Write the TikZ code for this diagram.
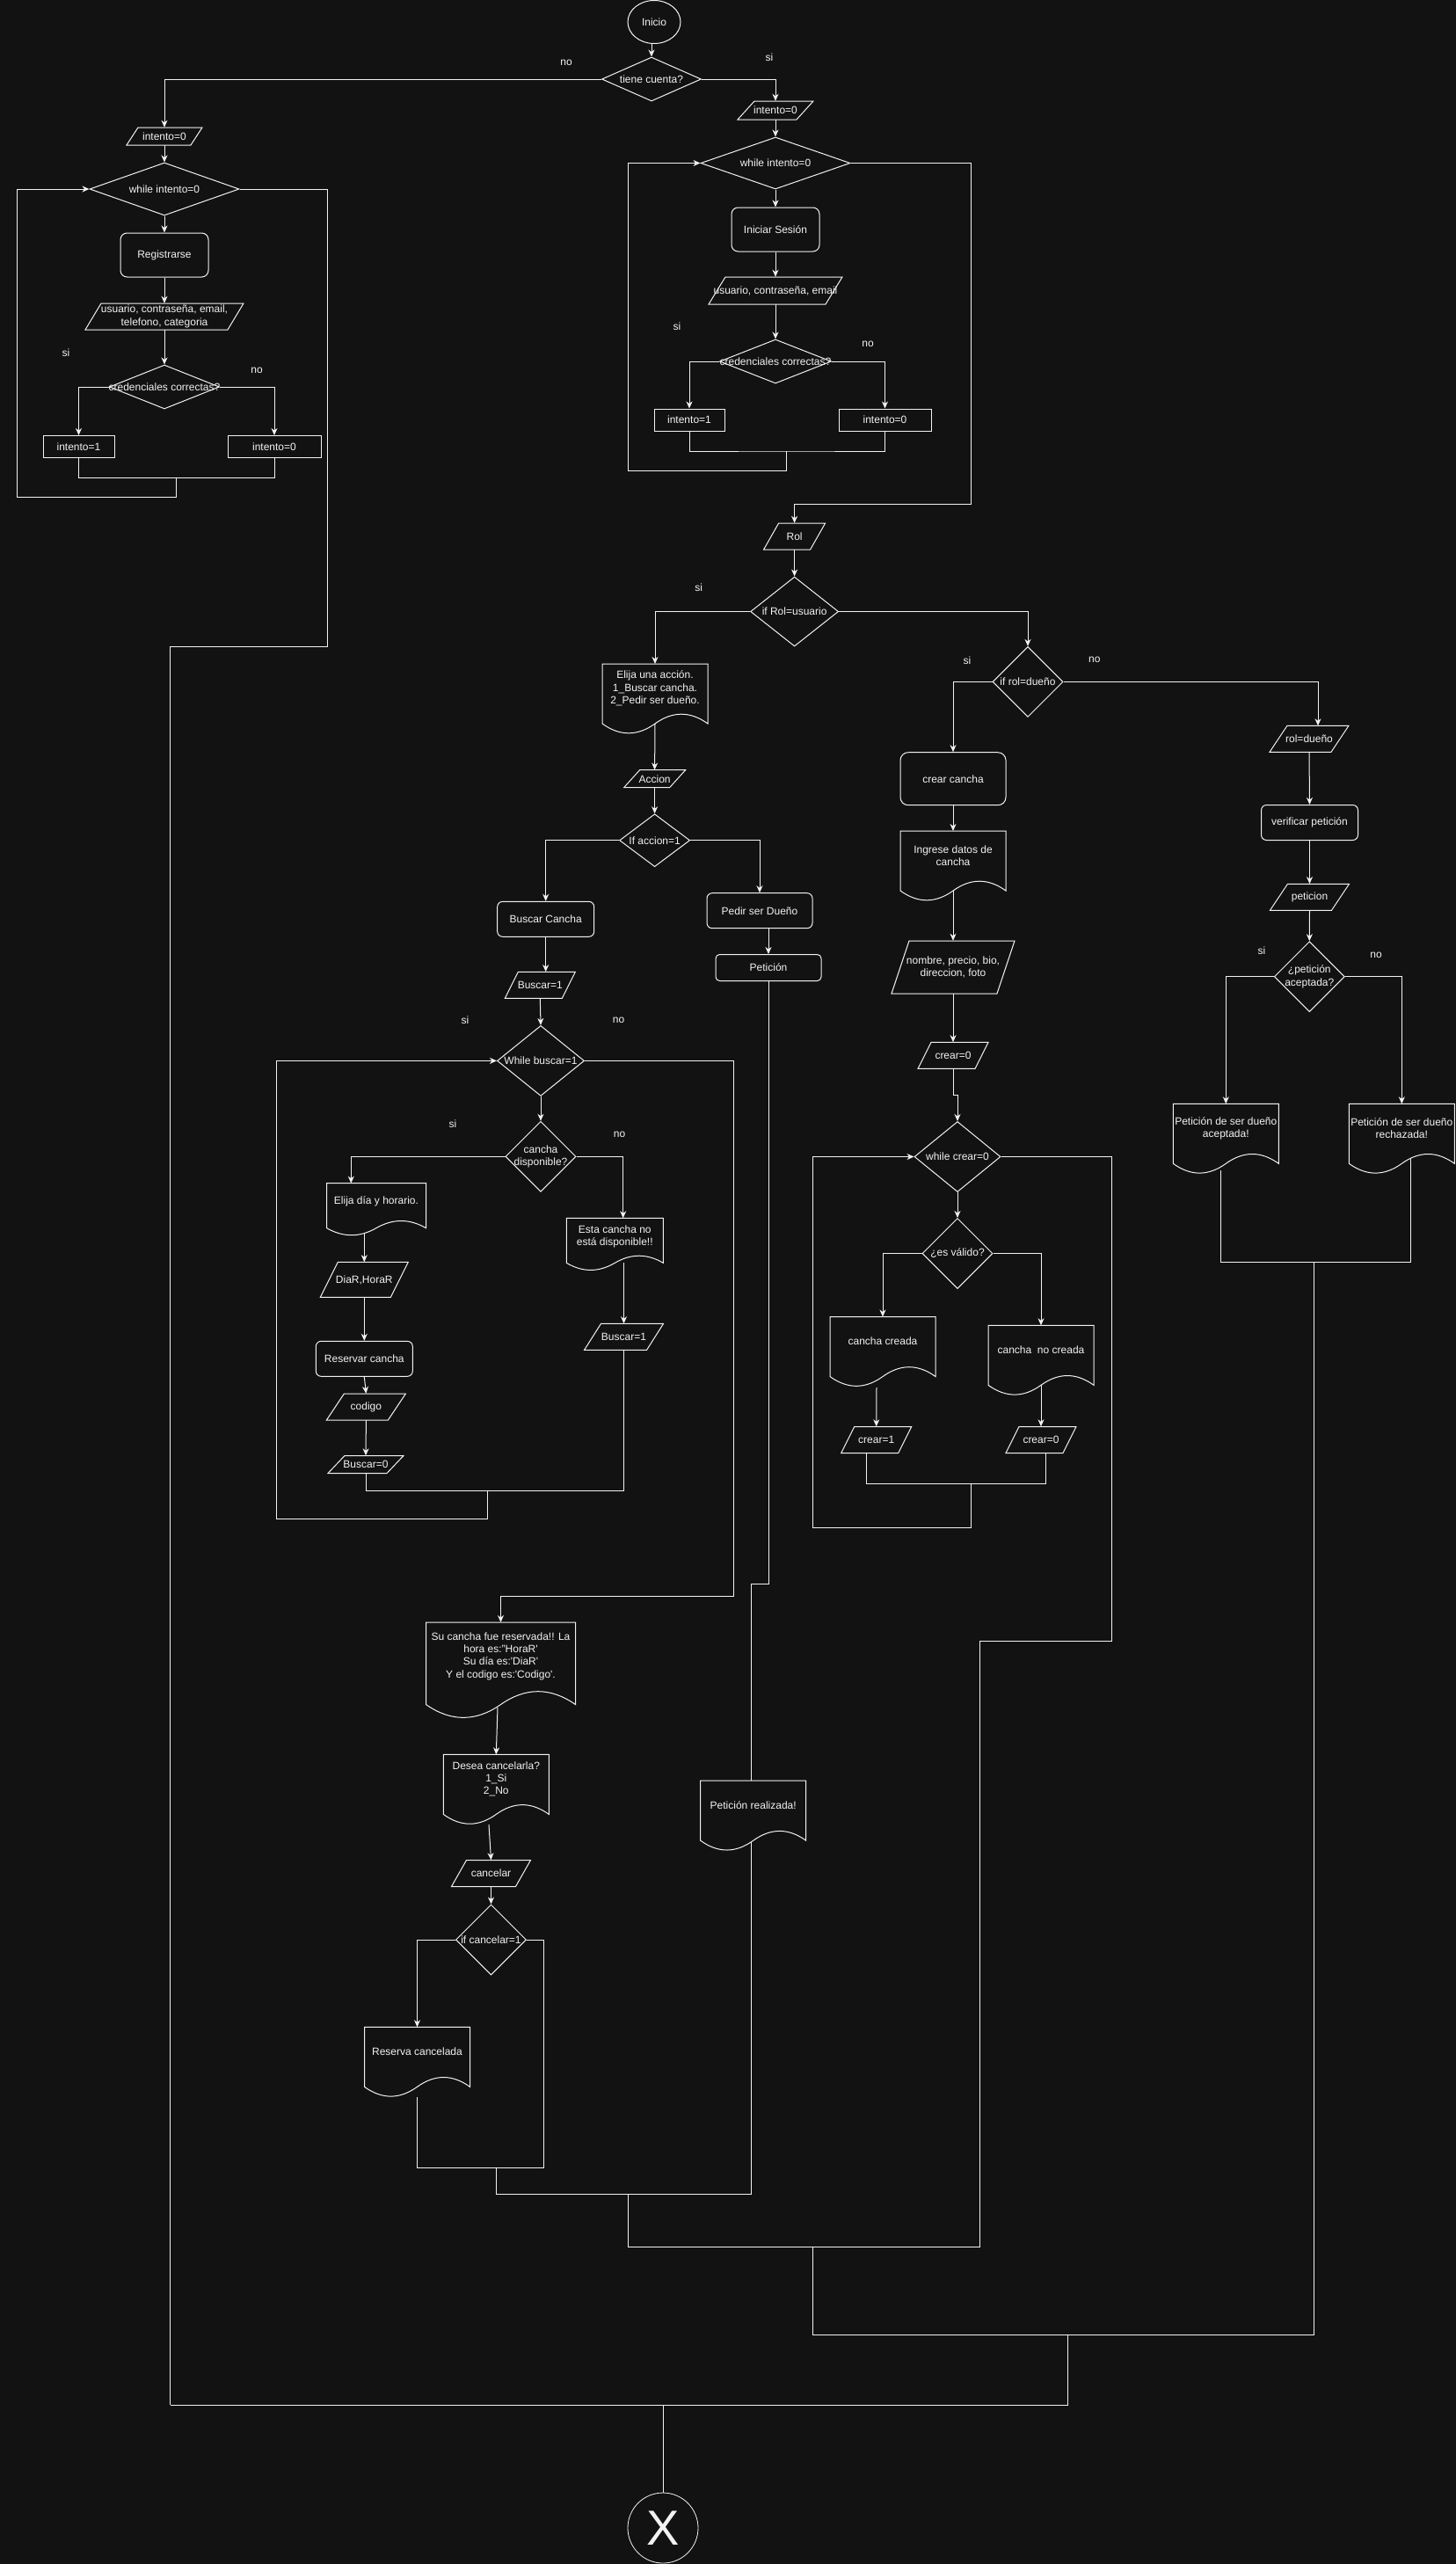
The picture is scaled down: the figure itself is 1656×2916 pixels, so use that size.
\documentclass[tikz,border=0pt]{standalone}
\usepackage{fontspec}
\setmainfont{Liberation Sans}
\usetikzlibrary{shapes.geometric,arrows.meta,calc}
\definecolor{bgc}{HTML}{121212}
\definecolor{fg}{HTML}{F2F2F2}
\pgfdeclarelayer{bgfill}\pgfdeclarelayer{edges}
\pgfsetlayers{bgfill,edges,main}
\newcommand\sq{\XeTeXglyph\XeTeXcharglyph"27\relax}
\tikzset{
 txt/.style={text=fg, font=\fontsize{12}{14.4}\selectfont, align=center, inner sep=0pt},
 shp/.style={draw=fg, fill=bgc, line width=1pt},
 diabox/.style={shp, diamond, inner sep=0pt},
 procbox/.style={shp, txt, rounded corners=#1},
 rectbox/.style={shp, txt},
 arr/.style={draw=fg, line width=1pt, -{Stealth[length=8pt,width=7pt,inset=2.5pt]}},
 ln/.style={draw=fg, line width=1pt},
 lab/.style={txt},
}
\newcommand\mkdia[6]{\node[diabox, minimum width=#4, minimum height=#5] (#1) at (#2,#3) {};
 \node[txt] (#1t) at (#1) {#6};}
\newcommand\mkpara[7]{\path[shp] ({#2-#4/2},{#3+#5/2}) -- ({#2-#4/2+#6},{#3-#5/2}) -- ({#2+#4/2},{#3-#5/2}) -- ({#2+#4/2-#6},{#3+#5/2}) -- cycle;
 \node[txt, minimum width=#4, minimum height=#5] (#1) at (#2,#3) {#7};}
\newcommand\mkdoc[6]{\path[shp] ({#2-#4/2},{#3}) -- ({#2+#4/2},{#3}) -- ({#2+#4/2},{#3+0.85*#5})
 .. controls ({#2+#4/3},{#3+0.67*#5}) and ({#2+#4/6},{#3+0.67*#5}) .. ({#2},{#3+0.85*#5})
 .. controls ({#2-#4/6},{#3+1.03*#5}) and ({#2-#4/3},{#3+1.03*#5}) .. ({#2-#4/2},{#3+0.85*#5}) -- cycle;
 \node[txt, minimum width=#4, minimum height=0.7*#5] (#1) at ({#2},{#3+0.35*#5}) {#6};
 \coordinate (#1-n) at ({#2},{#3});
 \coordinate (#1-s) at ({#2},{#3+0.85*#5});}
\begin{document}
\begin{tikzpicture}[x=1pt,y=-1pt]
\begin{pgfonlayer}{bgfill}
\fill[bgc] (0,0) rectangle (1656,2916);
\end{pgfonlayer}
\useasboundingbox (0,0) rectangle (1656,2916);

% ---- top / registration
\node[shp, txt, ellipse, minimum width=60, minimum height=49] (inicio) at (744,25) {Inicio};
\mkdia{tc}{741}{90}{113}{50}{tiene cuenta?}
\mkpara{p0L}{187}{155}{86}{20}{13}{intento=0}
\mkdia{wl}{187}{215}{170}{60}{while intento=0}
\node[procbox=7.5, minimum width=100, minimum height=50] (reg) at (187,290) {Registrarse};
\mkpara{puL}{187}{360}{180}{30}{18}{usuario, contraseña, email,\\telefono, categoria}
\mkdia{cl}{187}{440}{125}{50}{credenciales correctas?}
\node[rectbox, minimum width=81, minimum height=25] (i1L) at (89.5,508) {intento=1};
\node[rectbox, minimum width=106, minimum height=25] (i0L) at (312,508) {intento=0};

% ---- login
\mkpara{p0R}{882}{125.5}{86}{21}{19}{intento=0}
\mkdia{wr}{882}{185.5}{170}{59}{while intento=0}
\node[procbox=7.5, minimum width=100, minimum height=50] (ini) at (882,261) {Iniciar Sesión};
\mkpara{puR}{882}{330.5}{152}{31}{19}{usuario, contraseña, email}
\mkdia{cr}{882}{411}{127}{50}{credenciales correctas?}
\node[rectbox, minimum width=80, minimum height=25] (i1R) at (784,477.5) {intento=1};
\node[rectbox, minimum width=105, minimum height=25] (i0R) at (1006.5,477.5) {intento=0};

% ---- rol / usuario
\mkpara{rol}{903.6}{610}{70}{30}{17}{Rol}
\mkdia{ru}{903.6}{695.5}{100}{79}{if Rol=usuario}
\mkdoc{eli}{745}{755}{120}{80}{Elija una acción.\\1\_Buscar cancha.\\2\_Pedir ser dueño.}
\mkpara{acc}{744.6}{885.7}{70}{20}{18}{Accion}
\mkdia{ia}{744.6}{955.7}{80}{60}{If accion=1}
\node[procbox=6, minimum width=110, minimum height=40] (bc) at (620.7,1045.3) {Buscar Cancha};
\node[procbox=6, minimum width=120, minimum height=40] (psd) at (864,1035.7) {Pedir ser Dueño};
\node[procbox=4.5, minimum width=120, minimum height=30] (pet) at (874,1100.5) {Petición};
\mkpara{b1}{614.3}{1120.3}{80}{30}{15}{Buscar=1}
\mkdia{wb}{615}{1206.4}{99}{80}{While buscar=1}
\mkdia{cd}{615}{1315.3}{80}{80}{cancha\\disponible?}
\mkdoc{eld}{428}{1345.6}{113}{60}{Elija día y horario.}
\mkdoc{esta}{699.3}{1385.3}{110}{60}{Esta cancha no\\está disponible!!}
\mkpara{dh}{414.3}{1455.4}{100}{40}{20}{DiaR,HoraR}
\node[procbox=6, minimum width=110, minimum height=40] (res) at (414.3,1545.3) {Reservar cancha};
\mkpara{cod}{416.4}{1600}{90}{30}{20}{codigo}
\mkpara{b0}{416}{1665.5}{86}{20}{19}{Buscar=0}
\mkpara{b1r}{709.5}{1520.4}{90}{30}{19}{Buscar=1}
\mkdoc{su}{569.5}{1845}{170}{110}{Su cancha fue reservada!! La\\hora es:"HoraR\sq\\Su día es:\sq DiaR\sq\\Y el codigo es:\sq Codigo\sq.}
\mkdoc{des}{564.3}{1995.4}{120}{80}{Desea cancelarla?\\1\_Si\\2\_No}
\mkpara{can}{558.5}{2130.5}{90}{30}{17}{cancelar}
\mkdia{ic}{558.5}{2206}{80}{80}{if cancelar=1}
\mkdoc{rsv}{474.5}{2305.3}{120}{80}{Reserva cancelada}
\mkdoc{prz}{856.7}{2025.2}{120}{80}{Petición realizada!}

% ---- dueño
\mkdia{rd}{1169}{775.4}{80}{80}{if rol=dueño}
\node[procbox=9, minimum width=120, minimum height=60] (crc) at (1084,885.7) {crear cancha};
\mkdoc{ing}{1084}{945}{120}{80}{Ingrese datos de\\cancha}
\mkpara{nom}{1084}{1100}{140}{60}{20}{nombre, precio, bio,\\direccion, foto}
\mkpara{cr0}{1084}{1200.4}{80}{30}{15}{crear=0}
\mkdia{wc}{1089}{1315.5}{98}{80}{while crear=0}
\mkdia{ev}{1089}{1425.5}{80}{80}{¿es válido?}
\mkdoc{ccr}{1004}{1497.5}{120}{80}{cancha creada}
\mkdoc{cnc}{1184}{1507.3}{120}{80}{cancha\ \ no creada}
\mkpara{c1}{996.7}{1637.5}{80}{30}{15}{crear=1}
\mkpara{c0}{1184}{1637.5}{80}{30}{15}{crear=0}
\mkpara{rdp}{1489}{840.3}{90}{30}{20}{rol=dueño}
\node[procbox=6, minimum width=110, minimum height=40] (ver) at (1489.5,935.5) {verificar petición};
\mkpara{ptc}{1489.5}{1020.3}{90}{30}{20}{peticion}
\mkdia{pa}{1489.3}{1110.7}{80}{80}{¿petición\\aceptada?}
\mkdoc{acp}{1394.3}{1255.3}{120}{80}{Petición de ser dueño\\aceptada!}
\mkdoc{rch}{1594.3}{1255.3}{120}{80}{Petición de ser dueño\\rechazada!}

\node[shp, txt, circle, minimum size=80, inner sep=0pt, line width=0.8pt, font=\fontsize{56}{56}\selectfont] (fin) at (754,2875) {X};

% ---- labels
\node[lab] (lno0) at (644,71) {no};
\node[lab] (lsi0) at (875,65) {si};
\node[lab] (lsiL) at (75,401) {si};
\node[lab] (lnoL) at (292,421) {no};
\node[lab] (lsiR) at (770,371) {si};
\node[lab] (lnoR) at (987,391) {no};
\node[lab] (lsiU) at (794.6,668.6) {si};
\node[lab] (lsiD) at (1100,750.7) {si};
\node[lab] (lnoD) at (1244.8,750.7) {no};
\node[lab] (lsiP) at (1435,1080.7) {si};
\node[lab] (lnoP) at (1565,1086) {no};
\node[lab] (lsiB) at (529,1159.8) {si};
\node[lab] (lnoB) at (703.6,1160) {no};
\node[lab] (lsiC) at (515,1278.4) {si};
\node[lab] (lnoC) at (704.6,1290.6) {no};

% ---- routing coordinates
\coordinate (mL) at (200,543);
\coordinate (lpL) at (19,565.6);
\coordinate (cL1) at (372.7,735);
\coordinate (mR) at (894,513);
\coordinate (lpR) at (714,535);
\coordinate (cR1) at (1104,573);
\coordinate (pt1) at (854.5,1801);
\coordinate (eldIn) at (399.3,1345.6);
\coordinate (estaIn) at (708.7,1385.3);
\coordinate (eldOut) at (414.3,1403);
\coordinate (mb) at (554.6,1695.6);
\coordinate (lpB) at (314.3,1727.2);
\coordinate (wb1) at (834.3,1815);
\coordinate (suOut) at (566,1942);
\coordinate (desOut) at (556,2075);
\coordinate (rsvOut) at (474.5,2385);
\coordinate (m1a) at (474.5,2465);
\coordinate (m1b) at (618.5,2465);
\coordinate (m1) at (564.3,2465);
\coordinate (m2b) at (854.5,2495);
\coordinate (m2) at (714.3,2495);
\coordinate (m3b) at (1114.6,2555);
\coordinate (m3) at (924.2,2555);
\coordinate (m4b) at (1494.5,2655);
\coordinate (m4) at (1214,2655);
\coordinate (botL) at (193.5,2735);
\coordinate (m5) at (754,2735);
\coordinate (cz) at (1089,1245.3);
\coordinate (ccrOut) at (997,1578);
\coordinate (c1o) at (985.3,1652.4);
\coordinate (c0o) at (1189.3,1652.4);
\coordinate (mc) at (1104,1687.2);
\coordinate (lpC) at (924,1737.2);
\coordinate (wc1) at (1264.3,1866);
\coordinate (rdIn) at (1499,825.3);
\coordinate (acpo) at (1388.3,1331);
\coordinate (rcho) at (1604.3,1315);
\coordinate (pm) at (1494.5,1435);

\begin{pgfonlayer}{edges}
\draw[arr] (tc.north |- inicio.south) -- (tc.north);
\draw[arr] (tc.west) -| (p0L.north);
\draw[arr] (tc.east) -| (p0R.north);
\draw[arr] (p0L.south) -- (wl.north);
\draw[arr] (wl.south) -- (reg.north);
\draw[arr] (reg.south) -- (puL.north);
\draw[arr] (puL.south) -- (cl.north);
\draw[arr] (cl.west) -| (i1L.north);
\draw[arr] (cl.east) -| (i0L.north);
\draw[ln] (i1L.south) |- (mL) -| (i0L.south);
\draw[arr] (mL) |- (lpL) |- (wl.west);
\draw[ln] (wl.east) -| (cL1) -| (botL);

\draw[arr] (p0R.south) -- (wr.north);
\draw[arr] (wr.south) -- (ini.north);
\draw[arr] (ini.south) -- (puR.north);
\draw[arr] (puR.south) -- (cr.north);
\draw[arr] (cr.west) -| (i1R.north);
\draw[arr] (cr.east) -| (i0R.north);
\draw[ln] (i1R.south) |- (mR) -| (i0R.south);
\draw[arr] (mR) |- (lpR) |- (wr.west);
\draw[arr] (wr.east) -| (cR1) -| (rol.north);

\draw[arr] (rol.south) -- (ru.north);
\draw[arr] (ru.west) -| (eli-n);
\draw[arr] (ru.east) -| (rd.north);
\draw[arr] (eli-s) -- (acc.north);
\draw[arr] (acc.south) -- (ia.north);
\draw[arr] (ia.west) -| (bc.north);
\draw[arr] (ia.east) -| (psd.north);
\draw[arr] (pet.north |- psd.south) -- (pet.north);
\draw[ln] (pet.south) |- (pt1) -| (m2b);
\draw[arr] (bc.south) -- (bc.south |- b1.north);
\draw[arr] (b1.south) -- (wb.north);
\draw[arr] (wb.south) -- (cd.north);
\draw[arr] (cd.west) -| (eldIn);
\draw[arr] (cd.east) -| (estaIn);
\draw[arr] (eldOut) -- (dh.north);
\draw[arr] (dh.south) -- (res.north);
\draw[arr] (res.south) -- (cod.north);
\draw[arr] (cod.south) -- (b0.north);
\draw[arr] (b1r.north |- esta-s) -- (b1r.north);
\draw[ln] (b0.south) |- (mb) -| (b1r.south);
\draw[arr] (mb) |- (lpB) |- (wb.west);
\draw[arr] (wb.east) -| (wb1) -| (su-n);
\draw[arr] (suOut) -- (des-n);
\draw[arr] (desOut) -- (can.north);
\draw[arr] (can.south) -- (ic.north);
\draw[arr] (ic.west) -| (rsv-n);
\draw[ln] (ic.east) -| (m1b) -- (m1a) -- (rsvOut);
\draw[ln] (m1) |- (m2b);
\draw[ln] (m2) |- (m3b);

\draw[arr] (rd.west) -| (crc.north);
\draw[arr] (crc.south) -- (ing-n);
\draw[arr] (ing-s) -- (nom.north);
\draw[arr] (nom.south) -- (cr0.north);
\draw[arr] (cr0.south) |- (cz) -| (wc.north);
\draw[arr] (wc.south) -- (ev.north);
\draw[arr] (ev.west) -| (ccr-n);
\draw[arr] (ev.east) -| (cnc-n);
\draw[arr] (ccrOut) -- (c1.north);
\draw[arr] (cnc-s) -- (c0.north);
\draw[ln] (c1o) |- (mc) -| (c0o);
\draw[arr] (mc) |- (lpC) |- (wc.west);
\draw[ln] (wc.east) -| (wc1) -| (m3b);
\draw[arr] (rd.east) -| (rdIn);
\draw[arr] (rdp.south) -- (ver.north);
\draw[arr] (ver.south) -- (ptc.north);
\draw[arr] (ptc.south) -- (pa.north);
\draw[arr] (pa.west) -| (acp-n);
\draw[arr] (pa.east) -| (rch-n);
\draw[ln] (acpo) |- (pm) -| (rcho);
\draw[ln] (pm) -- (m4b);
\draw[ln] (m3) |- (m4b);
\draw[ln] (m4) |- (botL);
\draw[ln] (m5) -- (fin.north);
\end{pgfonlayer}
\end{tikzpicture}
\end{document}
